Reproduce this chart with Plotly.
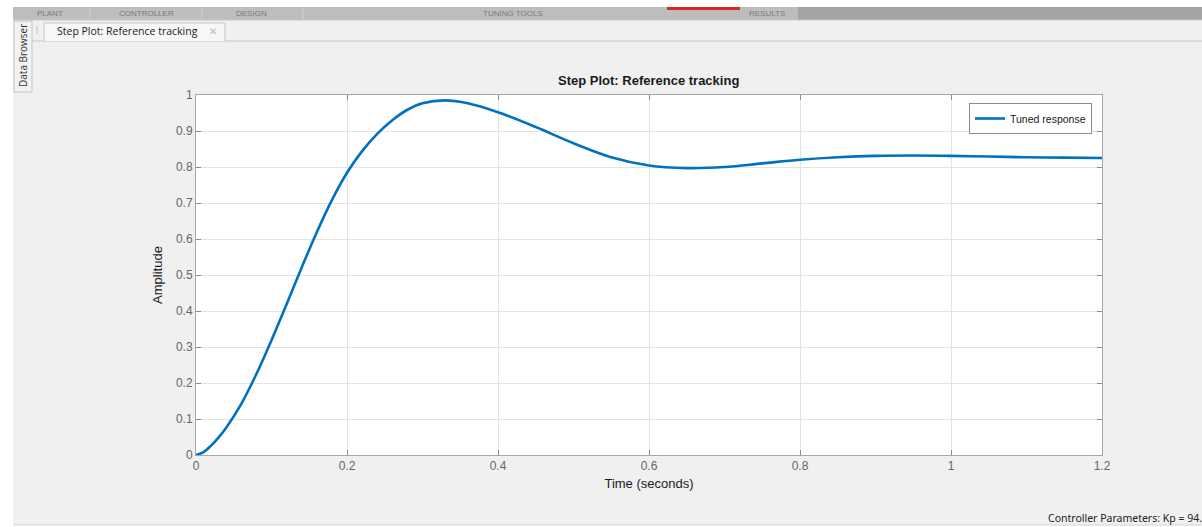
import plotly.graph_objects as go

# ---- data ----
time_s = [0, 0.01, 0.02, 0.03, 0.04, 0.06, 0.08, 0.10, 0.12, 0.14, 0.16, 0.18, 0.20, 0.22,
          0.24, 0.26, 0.28, 0.30, 0.33, 0.36, 0.40, 0.45, 0.50, 0.55, 0.60, 0.65, 0.70,
          0.75, 0.80, 0.85, 0.90, 0.95, 1.0, 1.05, 1.1, 1.15, 1.2]
amplitude = [0, 0.008, 0.026, 0.049, 0.076, 0.142, 0.225, 0.319, 0.419, 0.521, 0.619,
             0.708, 0.784, 0.844, 0.892, 0.930, 0.959, 0.977, 0.985, 0.977, 0.952, 0.911,
             0.866, 0.827, 0.804, 0.797, 0.800, 0.810, 0.820, 0.827, 0.831, 0.832, 0.831,
             0.829, 0.827, 0.826, 0.825]
x_ticks = [0, 0.2, 0.4, 0.6, 0.8, 1.0, 1.2]
y_ticks = [0, 0.1, 0.2, 0.3, 0.4, 0.5, 0.6, 0.7, 0.8, 0.9, 1.0]
toolbar_tabs = ["PLANT", "CONTROLLER", "DESIGN", "TUNING TOOLS", "RESULTS"]
toolbar_tab_x = [50, 146, 251, 513, 767]

W, H = 1202, 527
L, R, T, B = 196, 1102, 95, 455


def px(x):
    return (x - L) / (R - L)


def py(y):
    return (B - y) / (B - T)


fig = go.Figure()
fig.add_trace(go.Scatter(
    x=time_s, y=amplitude, mode="lines", name="Tuned response",
    line=dict(color="rgb(0,114,189)", width=2.6, shape="spline", smoothing=1.0),
    hoverinfo="skip",
))

shapes = []
annotations = []

# white outer margin
shapes.append(dict(type="rect", xref="paper", yref="paper", x0=px(0), x1=px(13),
                   y0=py(H), y1=py(0), fillcolor="white", line_width=0, layer="below"))
shapes.append(dict(type="rect", xref="paper", yref="paper", x0=px(0), x1=px(W),
                   y0=py(7), y1=py(0), fillcolor="white", line_width=0, layer="below"))
shapes.append(dict(type="rect", xref="paper", yref="paper", x0=px(0), x1=px(W),
                   y0=py(H), y1=py(525), fillcolor="white", line_width=0, layer="below"))
shapes.append(dict(type="line", xref="paper", yref="paper", x0=px(13), x1=px(W),
                   y0=py(525), y1=py(525), line=dict(color="#d4d4d4", width=1)))
# toolbar band
shapes.append(dict(type="rect", xref="paper", yref="paper", x0=px(13), x1=px(798),
                   y0=py(20), y1=py(7), fillcolor="#bdbdbd", line_width=0, layer="below"))
shapes.append(dict(type="rect", xref="paper", yref="paper", x0=px(798), x1=px(W),
                   y0=py(20), y1=py(7), fillcolor="#a3a3a3", line_width=0, layer="below"))
shapes.append(dict(type="rect", xref="paper", yref="paper", x0=px(667), x1=px(740),
                   y0=py(10), y1=py(7), fillcolor="#d62828", line_width=0))
for sx in [90, 202, 303]:
    shapes.append(dict(type="line", xref="paper", yref="paper", x0=px(sx), x1=px(sx),
                       y0=py(19), y1=py(8), line=dict(color="#d0d0d0", width=1)))
shapes.append(dict(type="line", xref="paper", yref="paper", x0=px(13), x1=px(W),
                   y0=py(20), y1=py(20), line=dict(color="#c8c8c8", width=1)))
# tab strip bottom line
shapes.append(dict(type="line", xref="paper", yref="paper", x0=px(13), x1=px(W),
                   y0=py(41), y1=py(41), line=dict(color="#c6c6c6", width=1)))
# active tab
shapes.append(dict(type="path", xref="paper", yref="paper",
                   path=f"M {px(44)},{py(41)} L {px(44)},{py(23)} L {px(225)},{py(23)} L {px(225)},{py(41)}",
                   fillcolor="#f7f7f7", line=dict(color="#c4c4c4", width=1)))
shapes.append(dict(type="line", xref="paper", yref="paper", x0=px(37), x1=px(37),
                   y0=py(34), y1=py(26), line=dict(color="#c0c0c0", width=1)))
# data browser side tab
shapes.append(dict(type="rect", xref="paper", yref="paper", x0=px(14), x1=px(32),
                   y0=py(92), y1=py(21), fillcolor="#f2f2f2", line=dict(color="#c4c4c4", width=1)))

for name, tx in zip(toolbar_tabs, toolbar_tab_x):
    annotations.append(dict(text=name, x=px(tx), y=py(13.5), xref="paper", yref="paper",
                            showarrow=False, xanchor="center", yanchor="middle",
                            font=dict(family="Liberation Sans, Arial", size=8, color="#7a7a7a")))
annotations.append(dict(text="Step Plot: Reference tracking", x=px(55), y=py(31.5),
                        xref="paper", yref="paper", showarrow=False, xanchor="left",
                        yanchor="middle",
                        font=dict(family="Open Sans, Noto Sans", size=10.5, color="#222")))
annotations.append(dict(text="\u2715", x=px(213), y=py(31.5), xref="paper", yref="paper",
                        showarrow=False, xanchor="center", yanchor="middle",
                        font=dict(family="DejaVu Sans", size=10, color="#b5b5b5")))
annotations.append(dict(text="Data Browser", x=px(23), y=py(56), xref="paper", yref="paper",
                        showarrow=False, textangle=-90, xanchor="center", yanchor="middle",
                        font=dict(family="Open Sans, Noto Sans", size=10, color="#333")))
annotations.append(dict(text="<b>Step Plot: Reference tracking</b>", x=px(648), y=py(81),
                        xref="paper", yref="paper", showarrow=False, xanchor="center",
                        yanchor="middle",
                        font=dict(family="Liberation Sans, Arial", size=13, color="#1a1a1a"),
                        ))
annotations.append(dict(text="Controller Parameters: Kp = 94.",
                        x=px(1046), y=py(518),
                        xref="paper", yref="paper", showarrow=False, xanchor="left",
                        yanchor="middle",
                        font=dict(family="Noto Sans", size=10.5, color="#222222")))

axis_common = dict(
    showline=True, linecolor="#a6a6a6", linewidth=1, mirror="ticks",
    ticks="inside", ticklen=5, tickcolor="#8a8a8a",
    showgrid=True, gridcolor="#e3e3e3", gridwidth=1, zeroline=False,
    tickfont=dict(family="Liberation Sans, Arial", size=12, color="#666666"),
)

fig.update_layout(
    width=W, height=H,
    margin=dict(l=L, r=W - R, t=T, b=H - B, pad=0),
    paper_bgcolor="#f0f0f0", plot_bgcolor="white",
    showlegend=True,
    legend=dict(x=px(1092), y=py(103), xanchor="right", yanchor="top",
                bgcolor="white", bordercolor="#8c8c8c", borderwidth=1,
                font=dict(family="Liberation Sans, Arial", size=10.5, color="#1a1a1a"),
                itemwidth=30, tracegroupgap=0),
    xaxis=dict(range=[0, 1.2], tickvals=x_ticks, ticktext=[f"{v:g}" for v in x_ticks],
               title=dict(text="Time (seconds)", standoff=6,
                          font=dict(family="Liberation Sans, Arial", size=13, color="#1a1a1a")),
               **axis_common),
    yaxis=dict(range=[0, 1], tickvals=y_ticks, ticktext=[f"{v:g}" for v in y_ticks],
               title=dict(text="Amplitude", standoff=10,
                          font=dict(family="Liberation Sans, Arial", size=13, color="#1a1a1a")),
               **axis_common),
    shapes=shapes, annotations=annotations,
)

fig.write_html("out.html", config={"displayModeBar": False},
               post_script="document.body.style.margin='0';document.body.style.padding='0';")
